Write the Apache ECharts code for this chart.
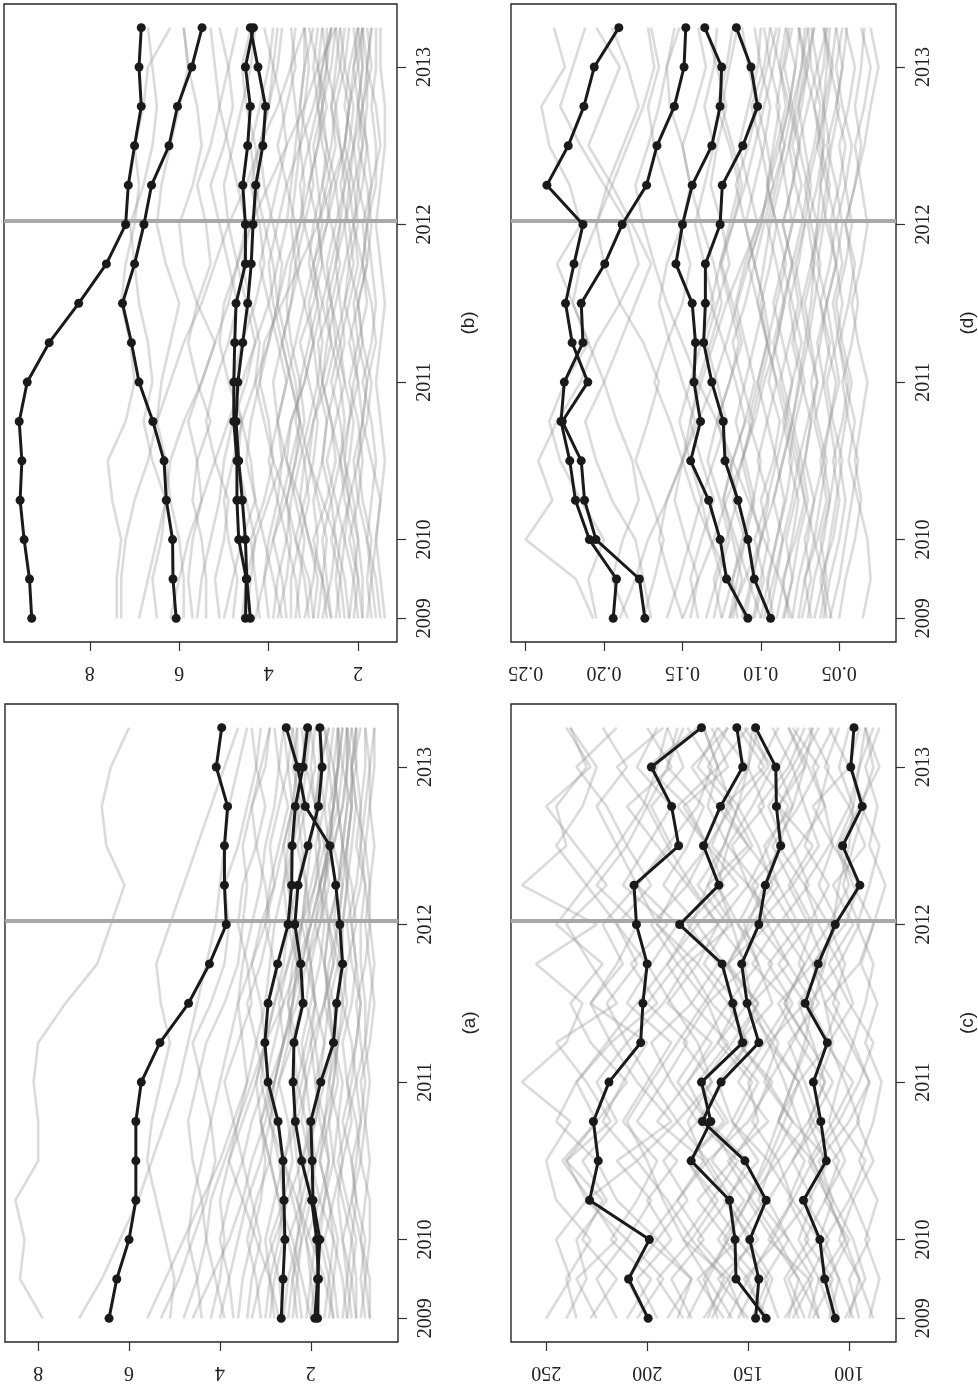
<!DOCTYPE html>
<html>
<head>
<meta charset="utf-8">
<script src="https://cdn.jsdelivr.net/npm/echarts@6/dist/echarts.min.js"></script>
<style>
html, body { margin: 0; padding: 0; background: #fff; }
#main { width: 978px; height: 1386px; }
</style>
</head>
<body>
<div id="main"></div>
<script>
// quarterly points, 2009Q3 .. 2013Q2
const quarters = ['2009Q3','2009Q4','2010Q1','2010Q2','2010Q3','2010Q4','2011Q1','2011Q2',
  '2011Q3','2011Q4','2012Q1','2012Q2','2012Q3','2012Q4','2013Q1','2013Q2'];
const yearTickAt = [0, 2, 6, 10, 14];
const yearLabels = ['2009', '2010', '2011', '2012', '2013'];
const breakAt = 10.1; // grey reference line just after 2012

// panel (a)
const aBold = [
  [6.44,6.27,6.00,5.85,5.85,5.85,5.73,5.32,4.69,4.23,3.86,3.90,3.90,3.83,4.08,3.96],
  [2.65,2.61,2.57,2.59,2.61,2.72,2.94,3.01,2.94,2.73,2.50,2.42,2.41,2.34,2.17,2.07],
  [1.85,1.83,1.87,1.98,2.20,2.34,2.39,2.37,2.17,2.22,2.35,2.28,2.06,1.83,1.75,1.80],
  [1.91,1.85,1.80,1.95,1.97,2.00,1.78,1.50,1.43,1.30,1.36,1.45,1.58,2.12,2.29,2.54]
];
const aGrey = [
  [7.9,8.4,8.3,8.5,8.0,8.0,8.1,8.0,7.4,6.7,6.4,6.1,6.5,6.6,6.4,6.0],
  [7.1,6.6,6.2,5.8,5.5,5.2,4.9,4.7,4.5,4.3,4.1,4.0,3.9,3.8,3.6,3.4],
  [5.1,5.0,5.2,5.4,5.6,5.5,5.3,5.1,5.3,5.4,5.1,4.8,4.5,4.2,3.9,3.6],
  [5.3,4.9,4.6,4.3,4.1,4.2,4.4,4.6,4.2,3.9,3.8,3.9,3.6,3.4,3.2,3.1],
  [4.8,4.5,4.3,4.4,4.6,4.7,4.5,4.3,3.9,3.6,3.5,3.4,3.5,3.3,3.0,2.9],
  [4.4,4.5,4.7,4.6,4.4,4.2,4.0,3.8,3.6,3.5,3.3,3.1,3.0,2.8,2.7,2.6],
  [4.0,3.8,3.6,3.4,3.1,2.9,2.7,2.5,2.4,2.3,2.2,2.1,2.0,1.9,1.8,1.8],
  [3.7,3.8,4.0,3.8,3.5,3.7,3.9,3.6,3.3,3.4,3.6,3.5,3.2,3.0,3.2,3.3],
  [3.4,3.3,3.1,3.3,3.5,3.3,3.0,3.2,3.4,3.1,2.9,3.0,3.2,3.3,3.1,2.9],
  [3.1,3.2,3.4,3.2,2.9,2.8,3.0,2.8,2.6,2.8,3.0,2.9,2.7,2.5,2.7,2.8],
  [2.9,2.8,2.6,2.7,2.9,3.1,2.8,2.6,2.7,2.5,2.3,2.5,2.6,2.4,2.3,2.4],
  [2.6,2.7,2.9,2.6,2.4,2.5,2.7,2.4,2.2,2.3,2.5,2.3,2.1,2.2,2.4,2.3],
  [2.4,2.3,2.2,2.4,2.6,2.3,2.1,2.3,2.5,2.2,2.0,2.1,2.3,2.1,1.9,2.0],
  [2.2,2.3,2.5,2.2,2.0,2.1,2.3,2.1,1.9,2.0,2.2,2.0,1.8,1.9,2.1,2.0],
  [2.0,1.9,1.8,2.0,2.2,2.0,1.8,1.7,1.9,2.1,1.8,1.6,1.7,1.9,1.8,1.6],
  [1.8,1.9,2.1,1.8,1.6,1.7,1.9,2.0,1.7,1.5,1.6,1.8,1.6,1.4,1.5,1.7],
  [1.6,1.5,1.4,1.6,1.8,1.6,1.4,1.5,1.7,1.6,1.4,1.3,1.5,1.6,1.4,1.3],
  [1.4,1.5,1.7,1.5,1.3,1.4,1.6,1.4,1.2,1.3,1.5,1.4,1.2,1.1,1.3,1.4],
  [1.2,1.1,1.0,1.2,1.4,1.2,1.0,1.1,1.3,1.2,1.0,1.1,1.3,1.2,1.0,1.1],
  [1.0,1.1,1.3,1.1,0.9,1.0,1.2,1.0,0.9,1.0,1.1,0.9,0.8,1.0,1.1,0.9],
  [0.8,0.9,0.8,1.0,1.1,0.9,0.8,0.9,1.0,0.8,0.7,0.8,1.0,0.9,0.8,0.8],
  [0.7,0.7,0.9,0.8,0.7,0.8,0.9,0.7,0.6,0.7,0.8,0.7,0.6,0.7,0.6,0.6],
  [2.7,2.9,3.2,3.5,3.8,3.6,3.3,3.0,2.6,2.3,2.0,1.8,1.5,1.3,1.2,1.2],
  [1.5,1.7,2.0,2.3,2.6,2.9,3.1,3.0,2.8,2.5,2.2,1.9,1.7,1.5,1.4,1.4],
  [3.3,3.1,2.8,2.5,2.2,1.9,1.7,1.5,1.4,1.3,1.3,1.2,1.2,1.1,1.1,1.0],
  [5.6,5.2,4.8,4.4,4.0,3.7,3.4,3.2,3.0,2.9,2.8,2.6,2.5,2.4,2.3,2.3],
  [3.0,2.9,2.7,2.6,2.7,2.9,2.8,2.6,2.4,2.3,2.4,2.5,2.4,2.2,2.1,2.2],
  [2.8,2.9,3.0,2.8,2.6,2.4,2.3,2.4,2.5,2.4,2.2,2.1,2.2,2.3,2.2,2.0],
  [2.5,2.4,2.3,2.2,2.3,2.4,2.2,2.0,1.9,2.0,2.1,1.9,1.8,1.9,2.0,1.9],
  [2.3,2.4,2.2,2.0,1.9,2.0,2.1,2.2,2.0,1.8,1.7,1.8,1.9,1.7,1.6,1.7],
  [2.1,2.0,2.1,2.3,2.1,1.9,1.8,1.9,2.1,2.0,1.8,1.7,1.6,1.7,1.8,1.6],
  [1.9,2.0,1.9,1.7,1.6,1.8,1.9,1.7,1.6,1.7,1.9,1.8,1.6,1.5,1.6,1.5],
  [1.7,1.6,1.5,1.6,1.8,1.7,1.5,1.4,1.5,1.7,1.6,1.4,1.3,1.4,1.5,1.4],
  [1.5,1.6,1.8,1.7,1.5,1.4,1.3,1.5,1.6,1.4,1.3,1.2,1.3,1.4,1.3,1.2],
  [1.3,1.2,1.3,1.4,1.3,1.1,1.2,1.3,1.1,1.0,1.1,1.2,1.1,1.0,1.1,1.2],
  [1.1,1.2,1.1,1.0,1.1,1.3,1.1,1.0,0.9,1.1,1.2,1.0,0.9,0.9,1.0,1.0],
  [0.9,0.8,0.9,1.1,1.0,0.9,1.0,0.8,0.8,0.9,0.9,0.8,0.9,0.8,0.7,0.8],
  [0.7,0.8,0.7,0.7,0.9,0.8,0.7,0.8,0.7,0.6,0.7,0.7,0.8,0.7,0.7,0.6],
  [3.6,3.5,3.3,3.1,3.0,3.1,3.2,3.0,2.8,2.6,2.5,2.6,2.4,2.3,2.2,2.1],
  [4.2,4.0,3.9,4.0,3.8,3.5,3.2,3.0,3.1,3.3,3.1,2.8,2.6,2.4,2.5,2.6],
  [2.0,2.2,2.4,2.7,2.9,3.1,2.9,2.6,2.4,2.2,2.0,1.8,1.6,1.5,1.4,1.3],
  [1.2,1.3,1.5,1.8,2.0,2.2,2.1,1.9,1.7,1.5,1.4,1.3,1.2,1.1,1.1,1.0],
  [2.6,2.5,2.3,2.1,1.9,1.7,1.6,1.5,1.6,1.7,1.6,1.4,1.3,1.2,1.2,1.1],
  [1.0,1.0,1.1,1.3,1.5,1.6,1.5,1.4,1.3,1.4,1.6,1.7,1.5,1.3,1.2,1.2],
  [4.6,4.2,3.8,3.5,3.3,3.0,2.8,2.6,2.3,2.1,1.9,1.7,1.6,1.5,1.4,1.4],
  [3.9,4.1,4.3,4.2,3.9,3.6,3.4,3.5,3.6,3.3,3.0,2.8,2.9,2.7,2.5,2.4]
];

// panel (b)
const bBold = [
  [9.30,9.35,9.47,9.56,9.52,9.58,9.40,8.91,8.25,7.63,7.20,7.14,7.00,6.85,6.90,6.85],
  [6.07,6.14,6.15,6.29,6.34,6.59,6.90,7.07,7.27,7.00,6.79,6.62,6.23,6.04,5.72,5.49],
  [4.52,4.50,4.67,4.71,4.71,4.78,4.78,4.76,4.73,4.52,4.52,4.58,4.47,4.41,4.52,4.34],
  [4.41,4.49,4.52,4.59,4.67,4.73,4.69,4.58,4.47,4.39,4.35,4.29,4.13,4.07,4.24,4.41]
];
const bGrey = [
  [7.4,7.4,7.3,7.5,7.6,7.2,7.0,7.1,7.3,7.2,7.0,6.9,7.0,6.8,6.7,6.2],
  [7.3,7.3,7.2,7.0,6.7,6.5,6.2,5.9,5.5,5.2,4.9,4.5,4.2,3.8,3.5,3.2],
  [6.9,6.7,6.5,6.3,6.2,5.9,5.5,5.2,4.9,4.7,4.4,4.0,3.6,3.2,2.9,2.5],
  [6.5,6.6,6.4,6.3,6.6,6.8,6.6,6.7,6.9,7.0,7.1,6.8,6.6,6.5,6.6,6.7],
  [5.9,5.9,6.0,6.2,6.3,6.5,6.4,6.2,6.0,6.3,6.5,6.4,6.2,6.0,5.8,5.9],
  [5.7,5.8,5.7,5.5,5.6,5.8,5.5,5.2,5.6,5.9,6.0,5.7,5.5,5.6,5.8,5.9],
  [5.4,5.4,5.5,5.7,5.6,5.3,5.6,5.8,5.6,5.3,5.4,5.6,5.3,5.1,5.2,5.3],
  [5.1,5.2,5.0,4.9,5.2,5.4,5.2,4.9,4.7,4.9,5.1,5.3,5.0,4.8,4.9,5.1],
  [4.8,4.7,4.9,5.0,4.8,4.6,4.9,5.1,5.0,4.7,4.5,4.7,4.9,5.1,4.9,4.7],
  [4.5,4.4,4.3,4.5,4.7,4.6,4.3,4.2,4.4,4.6,4.4,4.2,4.3,4.5,4.6,4.4],
  [4.2,4.3,4.4,4.1,3.9,4.1,4.3,4.0,3.8,3.7,3.9,4.1,4.2,4.0,3.9,4.1],
  [3.9,3.8,3.6,3.8,4.0,3.8,3.6,3.8,4.0,4.2,4.0,3.8,3.6,3.7,3.9,3.8],
  [3.6,3.7,3.9,3.7,3.5,3.3,3.5,3.7,3.5,3.3,3.4,3.6,3.8,3.6,3.4,3.5],
  [3.4,3.3,3.2,3.4,3.6,3.5,3.2,3.0,3.2,3.4,3.2,3.0,3.1,3.3,3.2,3.0],
  [3.1,3.2,3.4,3.2,3.0,2.9,3.1,3.3,3.0,2.8,2.9,3.1,2.9,2.7,2.9,3.1],
  [2.9,2.8,2.7,2.9,3.1,3.0,2.8,2.6,2.8,3.0,2.7,2.5,2.7,2.9,2.8,2.6],
  [2.7,2.8,3.0,2.7,2.5,2.6,2.8,2.9,2.6,2.4,2.6,2.8,2.6,2.5,2.7,2.8],
  [2.5,2.4,2.3,2.5,2.7,2.5,2.3,2.4,2.6,2.7,2.5,2.3,2.4,2.6,2.4,2.3],
  [2.3,2.4,2.6,2.4,2.2,2.1,2.3,2.5,2.3,2.1,2.2,2.4,2.2,2.1,2.3,2.4],
  [2.1,2.0,2.1,2.3,2.4,2.2,2.0,2.1,2.3,2.2,2.0,2.1,2.3,2.2,2.0,2.1],
  [1.9,2.0,2.2,2.0,1.9,2.0,2.2,2.0,1.8,1.9,2.1,1.9,1.8,2.0,2.1,1.9],
  [1.7,1.8,1.7,1.9,2.0,1.8,1.7,1.9,2.0,1.8,1.7,1.8,2.0,1.9,1.7,1.8],
  [1.5,1.6,1.8,1.7,1.6,1.7,1.9,1.7,1.6,1.7,1.8,1.6,1.6,1.7,1.6,1.6],
  [3.0,3.1,3.4,3.6,3.9,4.0,4.2,4.1,3.7,3.3,2.9,2.6,2.3,2.2,2.1,2.0],
  [4.6,4.5,4.3,4.0,3.7,3.5,3.2,3.0,2.8,2.6,2.4,2.3,2.1,2.0,1.9,1.9],
  [2.2,2.3,2.5,2.8,3.1,3.3,3.5,3.7,3.9,4.0,3.8,3.6,3.3,3.0,2.8,2.6],
  [6.2,6.0,5.8,5.5,5.2,4.9,4.6,4.3,4.0,3.8,3.6,3.5,3.4,3.3,3.2,3.2],
  [4.0,4.1,4.0,3.8,3.7,3.8,3.9,3.7,3.5,3.4,3.5,3.4,3.3,3.4,3.5,3.4],
  [3.8,3.6,3.5,3.6,3.4,3.2,3.3,3.5,3.6,3.5,3.3,3.2,3.3,3.2,3.1,3.2],
  [3.5,3.5,3.3,3.1,3.2,3.4,3.3,3.1,2.9,3.0,3.2,3.3,3.1,2.9,3.0,2.9],
  [3.3,3.4,3.6,3.5,3.3,3.1,2.9,2.8,2.9,3.1,3.0,2.8,2.7,2.8,2.9,2.8],
  [3.2,3.0,2.9,3.0,2.8,2.7,2.9,3.0,3.1,2.9,2.7,2.6,2.8,2.9,2.7,2.6],
  [3.0,2.9,3.1,3.3,3.2,3.0,2.7,2.5,2.6,2.8,2.9,2.7,2.5,2.6,2.5,2.4],
  [2.8,2.6,2.5,2.6,2.8,2.7,2.5,2.3,2.4,2.5,2.3,2.2,2.4,2.5,2.3,2.2],
  [2.6,2.7,2.8,2.6,2.4,2.3,2.4,2.6,2.7,2.5,2.4,2.5,2.3,2.2,2.4,2.5],
  [2.4,2.5,2.4,2.2,2.3,2.4,2.6,2.4,2.2,2.0,2.1,2.2,2.1,2.3,2.2,2.0],
  [2.2,2.1,2.0,2.1,2.3,2.2,2.1,1.9,2.0,2.2,2.3,2.1,1.9,2.0,1.9,2.0],
  [2.0,2.1,2.3,2.2,2.0,1.9,1.8,2.0,2.1,1.9,1.8,2.0,2.1,1.9,1.8,1.7],
  [1.8,1.7,1.8,2.0,2.1,1.9,2.0,2.2,2.0,1.8,1.9,1.7,1.8,1.9,2.0,1.9],
  [1.6,1.7,1.6,1.5,1.7,1.9,1.8,1.6,1.7,1.9,1.8,1.7,1.5,1.6,1.8,1.7],
  [1.4,1.5,1.6,1.5,1.4,1.5,1.6,1.5,1.4,1.5,1.6,1.5,1.4,1.4,1.5,1.5],
  [5.0,4.8,4.6,4.3,4.4,4.6,4.8,4.6,4.3,4.1,4.2,4.4,4.2,4.0,3.8,3.7],
  [5.6,5.5,5.3,5.1,5.0,4.8,4.5,4.3,4.5,4.7,4.9,5.0,4.8,4.6,4.4,4.3],
  [2.6,2.8,3.1,3.3,3.6,3.8,3.6,3.4,3.2,3.0,2.8,2.9,3.0,2.8,2.6,2.5],
  [4.3,4.1,3.9,3.6,3.4,3.3,3.4,3.6,3.8,3.6,3.3,3.1,2.9,2.8,2.7,2.7],
  [1.9,1.9,2.0,2.2,2.4,2.6,2.8,2.7,2.5,2.3,2.1,2.0,1.9,1.8,1.8,1.9],
  [3.7,3.9,4.1,4.3,4.5,4.4,4.2,4.0,3.8,3.9,4.1,4.3,4.4,4.2,4.0,3.9]
];

// panel (c)
const cBold = [
  [199.5,209.2,198.9,228.5,224.2,226.6,218.9,203.2,202.1,200.0,205.3,206.5,184.4,187.9,197.9,173.1],
  [141.1,156.0,156.5,159.2,178.2,168.5,173.1,152.7,157.6,162.9,183.9,164.5,172.1,163.7,152.7,155.6],
  [146.3,144.7,149.2,141.1,151.6,172.6,163.4,144.7,150.5,153.2,144.7,141.5,133.9,136.0,136.3,146.3],
  [106.9,112.1,114.5,122.6,111.3,114.0,117.7,110.8,121.8,115.3,106.9,94.7,103.2,93.5,99.2,97.6]
];
const cGrey = [
  [235,240,228,245,250,238,262,240,232,255,225,262,240,245,230,238],
  [228,215,232,222,240,218,230,245,215,228,240,220,235,250,228,240],
  [215,225,210,230,205,222,212,200,228,215,205,225,210,220,235,215],
  [205,192,210,198,215,188,205,218,195,208,190,212,200,188,205,195],
  [195,205,188,200,185,205,192,180,200,185,198,180,195,210,188,200],
  [185,178,195,180,192,175,188,198,178,190,175,192,180,172,190,182],
  [178,188,172,185,170,185,168,182,170,185,165,178,190,175,168,180],
  [170,162,178,165,180,162,175,160,178,165,180,162,170,185,165,172],
  [165,172,160,175,158,170,180,165,155,172,160,175,162,155,170,160],
  [160,150,165,152,168,155,145,162,170,150,165,150,168,160,150,165],
  [152,160,148,162,145,158,165,150,160,145,155,165,148,158,165,150],
  [148,140,155,142,158,145,150,138,152,160,140,150,158,142,150,145],
  [142,150,138,150,135,148,140,155,138,145,152,138,145,155,140,148],
  [135,142,130,145,138,128,142,135,148,130,140,148,132,140,128,138],
  [130,125,138,128,140,132,125,138,128,140,125,135,142,128,135,125],
  [125,132,120,130,122,135,128,120,132,122,135,120,128,135,122,130],
  [120,115,125,118,128,115,122,130,115,125,118,128,115,122,128,118],
  [115,120,110,122,112,120,112,118,125,112,120,110,122,115,110,120],
  [110,105,115,108,118,105,115,108,112,118,105,115,108,112,118,108],
  [105,110,100,112,102,110,105,98,108,102,110,100,106,98,105,100],
  [100,95,105,98,108,95,102,110,98,105,95,103,98,92,100,95],
  [95,100,90,98,88,96,90,98,92,88,96,90,85,94,88,92],
  [90,85,92,86,95,88,84,92,86,94,88,82,90,86,92,85],
  [240,230,235,220,232,215,225,210,220,205,215,198,210,200,190,185],
  [250,238,245,230,240,225,235,218,228,212,222,205,215,202,195,190],
  [88,95,102,110,118,125,132,140,148,152,158,165,160,170,165,172],
  [200,210,195,215,225,245,235,220,205,190,178,170,162,155,150,148],
  [180,170,160,150,142,135,128,122,118,112,108,105,100,98,95,92],
  [158,170,182,192,200,210,198,185,172,160,150,142,135,128,122,118],
  [145,138,150,160,172,180,168,175,188,200,215,230,245,232,225,238],
  [172,160,182,168,155,175,162,150,168,180,158,170,150,165,178,160],
  [162,175,155,168,180,160,172,158,145,162,175,155,170,182,160,168],
  [155,145,162,150,140,158,148,165,150,138,155,145,160,148,138,152],
  [140,152,135,148,160,140,155,142,130,148,135,150,140,130,145,135],
  [132,120,140,128,118,135,125,140,122,135,120,130,118,135,125,115],
  [122,130,115,128,135,120,112,125,135,118,128,140,125,112,120,130],
  [118,108,122,112,105,118,125,110,120,105,115,122,110,100,112,105],
  [108,115,102,110,120,108,98,112,105,118,102,95,108,118,100,110],
  [98,105,112,100,92,105,95,88,100,110,98,108,92,100,95,88],
  [190,178,200,185,172,195,180,168,190,175,195,185,170,180,200,175],
  [210,198,218,205,195,212,200,188,210,198,185,205,190,200,215,192],
  [225,235,215,228,242,225,210,228,238,222,245,230,215,225,210,222],
  [182,195,178,190,205,185,198,210,192,180,195,205,188,198,182,190],
  [168,158,175,160,150,170,185,172,160,175,165,180,170,158,175,165],
  [150,165,145,158,170,150,138,155,145,160,148,135,150,162,142,155],
  [115,125,135,120,110,128,140,128,118,130,145,128,138,125,115,128],
  [128,118,130,140,128,118,108,120,132,122,110,122,135,145,130,122],
  [102,92,98,108,115,100,90,100,112,95,88,98,105,95,85,92]
];

// panel (d)
const dBold = [
  [0.1942,0.1921,0.2094,0.2183,0.2219,0.2275,0.2254,0.2135,0.2146,0.1996,0.1885,0.1729,0.1663,0.1552,0.1490,0.1479],
  [0.1740,0.1775,0.2052,0.2125,0.2146,0.2267,0.2104,0.2204,0.2246,0.2192,0.2135,0.2365,0.2229,0.2129,0.2063,0.1906],
  [0.1083,0.1219,0.1260,0.1333,0.1448,0.1385,0.1427,0.1417,0.1438,0.1542,0.1500,0.1438,0.1313,0.1260,0.1250,0.1358],
  [0.0938,0.1042,0.1083,0.1146,0.1229,0.1240,0.1313,0.1365,0.1354,0.1354,0.1260,0.1246,0.1115,0.1021,0.1063,0.1156]
];
const dGrey = [
  [0.207,0.218,0.250,0.233,0.242,0.230,0.215,0.205,0.190,0.178,0.185,0.200,0.215,0.228,0.220,0.212],
  [0.205,0.210,0.200,0.215,0.228,0.235,0.225,0.210,0.220,0.230,0.215,0.222,0.235,0.240,0.225,0.232],
  [0.170,0.175,0.180,0.195,0.205,0.212,0.200,0.190,0.180,0.170,0.182,0.195,0.210,0.200,0.190,0.205],
  [0.175,0.168,0.162,0.170,0.180,0.172,0.165,0.175,0.190,0.200,0.205,0.198,0.188,0.178,0.185,0.195],
  [0.150,0.158,0.165,0.160,0.150,0.158,0.168,0.160,0.150,0.145,0.152,0.160,0.168,0.172,0.165,0.170],
  [0.145,0.140,0.148,0.155,0.150,0.142,0.150,0.158,0.165,0.160,0.150,0.145,0.150,0.158,0.160,0.152],
  [0.140,0.145,0.138,0.130,0.138,0.145,0.140,0.132,0.125,0.130,0.138,0.145,0.150,0.142,0.135,0.140],
  [0.130,0.125,0.132,0.138,0.130,0.122,0.128,0.135,0.128,0.120,0.125,0.132,0.128,0.122,0.128,0.135],
  [0.125,0.130,0.122,0.115,0.120,0.128,0.120,0.112,0.118,0.125,0.118,0.112,0.118,0.125,0.120,0.115],
  [0.120,0.115,0.110,0.118,0.112,0.105,0.112,0.118,0.110,0.104,0.110,0.116,0.108,0.102,0.108,0.112],
  [0.115,0.118,0.112,0.105,0.100,0.108,0.102,0.096,0.102,0.108,0.100,0.095,0.100,0.106,0.098,0.094],
  [0.110,0.105,0.100,0.095,0.102,0.096,0.090,0.096,0.100,0.094,0.090,0.096,0.092,0.088,0.094,0.098],
  [0.105,0.100,0.095,0.100,0.092,0.088,0.095,0.090,0.085,0.090,0.096,0.090,0.085,0.090,0.086,0.082],
  [0.100,0.095,0.090,0.085,0.090,0.084,0.080,0.086,0.092,0.086,0.080,0.084,0.088,0.082,0.078,0.084],
  [0.095,0.090,0.086,0.080,0.076,0.082,0.088,0.082,0.076,0.080,0.086,0.080,0.075,0.080,0.085,0.080],
  [0.090,0.085,0.080,0.076,0.082,0.078,0.072,0.078,0.082,0.076,0.072,0.078,0.082,0.076,0.072,0.076],
  [0.085,0.080,0.076,0.070,0.074,0.080,0.075,0.070,0.074,0.078,0.072,0.068,0.072,0.076,0.070,0.066],
  [0.080,0.076,0.070,0.066,0.072,0.068,0.064,0.070,0.066,0.062,0.068,0.072,0.066,0.062,0.068,0.070],
  [0.076,0.072,0.066,0.062,0.058,0.064,0.068,0.062,0.058,0.064,0.060,0.056,0.062,0.066,0.060,0.058],
  [0.070,0.066,0.060,0.056,0.060,0.056,0.052,0.058,0.062,0.056,0.052,0.058,0.055,0.050,0.056,0.060],
  [0.066,0.060,0.056,0.052,0.048,0.054,0.058,0.052,0.048,0.052,0.056,0.050,0.046,0.052,0.048,0.045],
  [0.060,0.056,0.050,0.046,0.050,0.046,0.042,0.048,0.052,0.046,0.042,0.046,0.050,0.044,0.040,0.046],
  [0.056,0.050,0.046,0.042,0.038,0.044,0.048,0.042,0.038,0.042,0.046,0.040,0.036,0.040,0.036,0.034],
  [0.050,0.046,0.040,0.036,0.040,0.036,0.032,0.038,0.042,0.036,0.032,0.036,0.040,0.034,0.030,0.036],
  [0.035,0.030,0.032,0.038,0.044,0.040,0.046,0.050,0.044,0.040,0.046,0.040,0.034,0.030,0.025,0.030],
  [0.150,0.140,0.130,0.122,0.112,0.104,0.098,0.090,0.085,0.080,0.074,0.070,0.064,0.060,0.055,0.052],
  [0.080,0.088,0.098,0.108,0.118,0.128,0.140,0.150,0.160,0.168,0.175,0.180,0.172,0.165,0.160,0.155],
  [0.190,0.180,0.172,0.160,0.150,0.140,0.130,0.122,0.115,0.108,0.100,0.095,0.088,0.082,0.078,0.075],
  [0.110,0.120,0.132,0.142,0.150,0.145,0.138,0.130,0.122,0.112,0.102,0.092,0.085,0.080,0.074,0.070],
  [0.125,0.118,0.110,0.104,0.110,0.116,0.110,0.104,0.098,0.104,0.110,0.104,0.098,0.094,0.100,0.104],
  [0.118,0.112,0.118,0.124,0.118,0.110,0.104,0.110,0.116,0.110,0.102,0.108,0.114,0.108,0.102,0.100],
  [0.112,0.106,0.100,0.106,0.112,0.106,0.100,0.094,0.098,0.104,0.098,0.092,0.096,0.102,0.096,0.090],
  [0.104,0.098,0.104,0.096,0.090,0.096,0.102,0.096,0.090,0.084,0.090,0.096,0.090,0.084,0.088,0.094],
  [0.098,0.092,0.086,0.092,0.086,0.080,0.086,0.092,0.086,0.080,0.086,0.080,0.076,0.082,0.088,0.084],
  [0.092,0.096,0.090,0.084,0.080,0.086,0.080,0.074,0.080,0.086,0.080,0.074,0.080,0.074,0.070,0.076],
  [0.086,0.080,0.084,0.078,0.072,0.068,0.074,0.080,0.074,0.068,0.064,0.070,0.076,0.070,0.064,0.068],
  [0.082,0.086,0.078,0.072,0.076,0.070,0.064,0.068,0.072,0.066,0.070,0.064,0.060,0.066,0.072,0.066],
  [0.074,0.068,0.072,0.066,0.060,0.066,0.060,0.056,0.062,0.068,0.062,0.058,0.064,0.058,0.054,0.060],
  [0.068,0.072,0.064,0.058,0.062,0.056,0.060,0.064,0.058,0.052,0.058,0.062,0.056,0.060,0.064,0.058],
  [0.062,0.058,0.062,0.056,0.052,0.056,0.050,0.054,0.058,0.052,0.048,0.052,0.058,0.052,0.048,0.052],
  [0.058,0.062,0.054,0.050,0.054,0.048,0.044,0.050,0.054,0.048,0.052,0.046,0.042,0.048,0.052,0.048],
  [0.135,0.128,0.120,0.126,0.134,0.128,0.120,0.114,0.120,0.126,0.120,0.114,0.120,0.128,0.122,0.118],
  [0.160,0.152,0.145,0.138,0.145,0.152,0.145,0.138,0.130,0.136,0.142,0.136,0.130,0.136,0.130,0.128],
  [0.100,0.108,0.116,0.124,0.118,0.110,0.116,0.124,0.132,0.126,0.118,0.110,0.104,0.098,0.092,0.088],
  [0.120,0.110,0.100,0.092,0.086,0.080,0.076,0.072,0.068,0.066,0.064,0.062,0.060,0.060,0.058,0.056],
  [0.055,0.060,0.066,0.072,0.078,0.084,0.090,0.096,0.102,0.098,0.094,0.088,0.082,0.078,0.074,0.072],
  [0.185,0.195,0.188,0.178,0.182,0.192,0.200,0.210,0.220,0.215,0.205,0.195,0.185,0.175,0.168,0.172]
];

const panels = [
  { label: '(b)', left: 4,   top: 4,   min: 1.13,   max: 9.92,   ticks: [2, 4, 6, 8], digits: 0, bold: bBold, grey: bGrey },
  { label: '(d)', left: 511, top: 4,   min: 0.0138, max: 0.2594, ticks: [0.05, 0.10, 0.15, 0.20, 0.25], digits: 2, bold: dBold, grey: dGrey },
  { label: '(a)', left: 5,   top: 704, min: 0.08,   max: 8.73,   ticks: [2, 4, 6, 8], digits: 0, bold: aBold, grey: aGrey },
  { label: '(c)', left: 511, top: 704, min: 76.8,   max: 267.4,  ticks: [100, 150, 200, 250], digits: 0, bold: cBold, grey: cGrey }
];

const serif = 'Liberation Serif';
const grids = [], xAxes = [], yAxes = [], series = [];

panels.forEach((p, i) => {
  grids.push({
    left: p.left, top: p.top, width: 393, height: 638,
    show: true, borderColor: '#262626', borderWidth: 1.4, backgroundColor: 'transparent'
  });
  xAxes.push({
    type: 'value', gridIndex: i, min: p.min, max: p.max, inverse: true, position: 'bottom',
    axisLine: { show: false, onZero: false }, splitLine: { show: false },
    axisTick: { show: true, inside: false, length: 9, customValues: p.ticks, lineStyle: { color: '#333', width: 1.2 } },
    axisLabel: {
      customValues: p.ticks, rotate: 180, margin: 20,
      fontFamily: serif, fontSize: 20, color: '#222',
      formatter: v => v.toFixed(p.digits)
    }
  });
  yAxes.push({
    type: 'value', gridIndex: i, min: -0.6, max: 15.6, position: 'right',
    axisLine: { show: false, onZero: false }, splitLine: { show: false },
    axisTick: { show: true, inside: false, length: 9, customValues: yearTickAt, lineStyle: { color: '#333', width: 1.2 } },
    axisLabel: {
      customValues: yearTickAt, rotate: 90, margin: 18,
      fontFamily: serif, fontSize: 20, color: '#222',
      formatter: v => yearLabels[yearTickAt.indexOf(Math.round(v))]
    },
    name: p.label, nameLocation: 'middle', nameRotate: 90, nameGap: 62,
    nameTextStyle: { fontFamily: 'Liberation Sans', fontSize: 19, color: '#222' }
  });

  p.grey.forEach(row => {
    series.push({
      type: 'line', xAxisIndex: i, yAxisIndex: i, silent: true, z: 1,
      symbol: 'none', data: row.map((v, k) => [v, k]),
      lineStyle: { color: 'rgba(150,150,150,0.34)', width: 2.6 }
    });
  });

  // grey reference line at 2012
  series.push({
    type: 'line', xAxisIndex: i, yAxisIndex: i, z: 3, data: [],
    markLine: {
      silent: true, symbol: ['none', 'none'], label: { show: false },
      lineStyle: { color: '#a9a9a9', width: 4, type: 'solid' },
      data: [{ yAxis: breakAt }]
    }
  });

  p.bold.forEach(row => {
    series.push({
      type: 'line', xAxisIndex: i, yAxisIndex: i, z: 5,
      symbol: 'circle', symbolSize: 9, data: row.map((v, k) => [v, k]),
      itemStyle: { color: '#1a1a1a' },
      lineStyle: { color: '#1a1a1a', width: 3 }
    });
  });
});

const chart = echarts.init(document.getElementById('main'), null, { renderer: 'canvas' });
chart.setOption({
  animation: false,
  backgroundColor: '#fff',
  grid: grids,
  xAxis: xAxes,
  yAxis: yAxes,
  series: series
});
</script>
</body>
</html>
